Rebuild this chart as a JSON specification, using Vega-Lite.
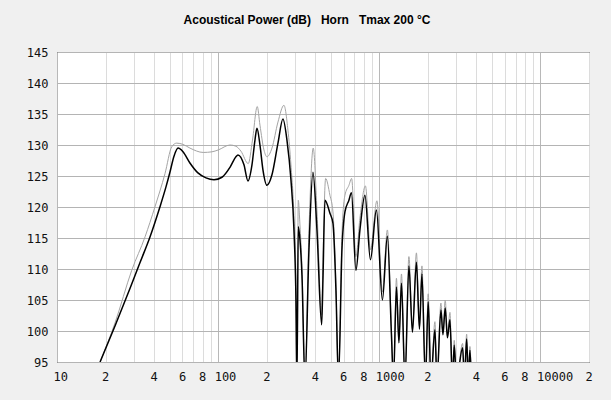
{
  "$schema": "https://vega.github.io/schema/vega-lite/v6.json",
  "width": 532,
  "height": 310,
  "autosize": {"type": "none"},
  "padding": {"left": 57, "top": 52, "right": 22, "bottom": 38},
  "background": "#f0f0f0",
  "config": {
    "view": {"stroke": "#000000", "strokeWidth": 1, "fill": "#ffffff"},
    "axis": {"labelFont": "DejaVu Sans Mono", "labelFontSize": 12, "labelColor": "#111111", "ticks": false, "tickSize": 0, "domain": false, "title": null, "labelOverlap": false, "labelBound": false, "labelFlush": false}
  },
  "title": {
    "text": "Acoustical Power (dB)\u00a0\u00a0\u00a0Horn\u00a0\u00a0\u00a0Tmax 200 °C",
    "font": "Liberation Sans",
    "fontSize": 12,
    "fontWeight": "bold",
    "color": "#000000",
    "anchor": "middle",
    "dx": -16,
    "offset": 19
  },
  "datasets": {
    "gray": [
      {"f": 18.5, "db": 95},
      {"f": 22.9, "db": 101.3},
      {"f": 29.1, "db": 109.8},
      {"f": 35.2, "db": 115.2},
      {"f": 40.5, "db": 120.0},
      {"f": 46.8, "db": 125.4},
      {"f": 51.5, "db": 129.7},
      {"f": 55.3, "db": 130.3},
      {"f": 60.5, "db": 130.1},
      {"f": 66.8, "db": 129.5},
      {"f": 80.8, "db": 128.8},
      {"f": 91.5, "db": 128.9},
      {"f": 100.1, "db": 129.2},
      {"f": 118.4, "db": 130.0},
      {"f": 128.9, "db": 129.8},
      {"f": 138.5, "db": 129.0},
      {"f": 153.7, "db": 127.0},
      {"f": 163.3, "db": 130.8},
      {"f": 174.8, "db": 136.2},
      {"f": 181.7, "db": 133.2},
      {"f": 192.4, "db": 129.2},
      {"f": 200.7, "db": 128.1},
      {"f": 215.7, "db": 129.5},
      {"f": 235, "db": 133.7},
      {"f": 255.9, "db": 136.4},
      {"f": 271.0, "db": 132.4},
      {"f": 282.9, "db": 126.8},
      {"f": 295.3, "db": 118.7},
      {"f": 303.9, "db": 108.2},
      {"f": 308.3, "db": 92},
      {"f": 314.1, "db": 121.1},
      {"f": 321.8, "db": 117.1},
      {"f": 331.1, "db": 110.6},
      {"f": 345.6, "db": 92},
      {"f": 365.9, "db": 116.3},
      {"f": 389, "db": 129.5},
      {"f": 410.2, "db": 119.5},
      {"f": 438.6, "db": 102.6},
      {"f": 446.8, "db": 111.5},
      {"f": 464.4, "db": 124.6},
      {"f": 493.8, "db": 121.9},
      {"f": 515.5, "db": 119.2},
      {"f": 538.1, "db": 107.4},
      {"f": 557.7, "db": 92},
      {"f": 586.2, "db": 115.5},
      {"f": 611.8, "db": 121.9},
      {"f": 647.7, "db": 123.5},
      {"f": 673.3, "db": 124.6},
      {"f": 715.8, "db": 112.0},
      {"f": 758, "db": 118.2},
      {"f": 820, "db": 123.4},
      {"f": 880.8, "db": 113.1},
      {"f": 966.3, "db": 121.0},
      {"f": 1045, "db": 106.3},
      {"f": 1122, "db": 116.3},
      {"f": 1189, "db": 100.2},
      {"f": 1224, "db": 92},
      {"f": 1277, "db": 108.5},
      {"f": 1323, "db": 98.5},
      {"f": 1372, "db": 109.2},
      {"f": 1442, "db": 92},
      {"f": 1526, "db": 112.0},
      {"f": 1605, "db": 100.3},
      {"f": 1699, "db": 112.6},
      {"f": 1774, "db": 100.8},
      {"f": 1838, "db": 110.5},
      {"f": 1932, "db": 92},
      {"f": 2011, "db": 106.0},
      {"f": 2090, "db": 92},
      {"f": 2213, "db": 101.5},
      {"f": 2277, "db": 92},
      {"f": 2411, "db": 104.5},
      {"f": 2481, "db": 99.8},
      {"f": 2564, "db": 105.0},
      {"f": 2646, "db": 99.3},
      {"f": 2742, "db": 103.0},
      {"f": 2842, "db": 92},
      {"f": 2916, "db": 98.5},
      {"f": 3009, "db": 92},
      {"f": 3287, "db": 98.0},
      {"f": 3373, "db": 92},
      {"f": 3481, "db": 99.5},
      {"f": 3571, "db": 92},
      {"f": 3648, "db": 97.5},
      {"f": 3727, "db": 92}
    ],
    "black": [
      {"f": 18.5, "db": 95},
      {"f": 22.9, "db": 100.8},
      {"f": 28.4, "db": 106.9},
      {"f": 32.7, "db": 111.0},
      {"f": 37.8, "db": 115.2},
      {"f": 43.5, "db": 120.0},
      {"f": 47.4, "db": 123.2},
      {"f": 50.2, "db": 125.6},
      {"f": 53.2, "db": 128.2},
      {"f": 56.4, "db": 129.5},
      {"f": 60.5, "db": 128.9},
      {"f": 66.8, "db": 127.1},
      {"f": 74.9, "db": 125.5},
      {"f": 84.0, "db": 124.7},
      {"f": 94.2, "db": 124.4},
      {"f": 105.6, "db": 124.8},
      {"f": 118.4, "db": 126.4},
      {"f": 128.9, "db": 128.1},
      {"f": 132.7, "db": 128.4},
      {"f": 144.6, "db": 126.8},
      {"f": 153.0, "db": 124.2},
      {"f": 162.1, "db": 126.8},
      {"f": 169.2, "db": 130.8},
      {"f": 174.1, "db": 132.7},
      {"f": 181.7, "db": 130.0},
      {"f": 189.6, "db": 126.0},
      {"f": 200.7, "db": 123.5},
      {"f": 215.7, "db": 125.2},
      {"f": 235, "db": 130.3},
      {"f": 252.3, "db": 134.2},
      {"f": 267.2, "db": 130.8},
      {"f": 282.9, "db": 124.4},
      {"f": 295.3, "db": 116.3},
      {"f": 303.9, "db": 105.0},
      {"f": 308.3, "db": 92},
      {"f": 314.1, "db": 116.8},
      {"f": 321.8, "db": 114.7},
      {"f": 331.1, "db": 109.0},
      {"f": 345.6, "db": 92},
      {"f": 365.9, "db": 113.1},
      {"f": 387.4, "db": 125.6},
      {"f": 410.2, "db": 116.3},
      {"f": 438.6, "db": 101.0},
      {"f": 446.8, "db": 108.2},
      {"f": 459.7, "db": 121.1},
      {"f": 493.8, "db": 119.0},
      {"f": 515.5, "db": 117.4},
      {"f": 538.1, "db": 106.6},
      {"f": 557.7, "db": 92},
      {"f": 586.2, "db": 113.1},
      {"f": 611.8, "db": 119.2},
      {"f": 647.7, "db": 121.1},
      {"f": 671.3, "db": 122.3},
      {"f": 715.8, "db": 109.8},
      {"f": 758, "db": 116.3},
      {"f": 814.3, "db": 121.9},
      {"f": 880.8, "db": 111.5},
      {"f": 959.4, "db": 119.5},
      {"f": 1045, "db": 105.0},
      {"f": 1122, "db": 115.3},
      {"f": 1189, "db": 99.4},
      {"f": 1224, "db": 92},
      {"f": 1277, "db": 107.1},
      {"f": 1323, "db": 98.1},
      {"f": 1372, "db": 107.7},
      {"f": 1442, "db": 92},
      {"f": 1526, "db": 110.5},
      {"f": 1605, "db": 99.8},
      {"f": 1699, "db": 111.1},
      {"f": 1774, "db": 100.3},
      {"f": 1838, "db": 109.2},
      {"f": 1932, "db": 92},
      {"f": 2011, "db": 104.7},
      {"f": 2090, "db": 92},
      {"f": 2213, "db": 100.2},
      {"f": 2277, "db": 92},
      {"f": 2411, "db": 103.4},
      {"f": 2481, "db": 99.4},
      {"f": 2564, "db": 103.7},
      {"f": 2646, "db": 98.9},
      {"f": 2742, "db": 101.8},
      {"f": 2842, "db": 92},
      {"f": 2916, "db": 97.7},
      {"f": 3009, "db": 92},
      {"f": 3287, "db": 97.3},
      {"f": 3373, "db": 92},
      {"f": 3481, "db": 98.7},
      {"f": 3571, "db": 92},
      {"f": 3648, "db": 96.9},
      {"f": 3727, "db": 92}
    ]
  },
  "encoding": {
    "x": {
      "field": "f",
      "type": "quantitative",
      "scale": {"type": "log", "domain": [10, 20000], "nice": false},
      "axis": {
        "values": [10, 20, 30, 40, 50, 60, 70, 80, 90, 100, 200, 300, 400, 500, 600, 700, 800, 900, 1000, 2000, 3000, 4000, 5000, 6000, 7000, 8000, 9000, 10000, 20000],
        "labelExpr": "indexof([10, 100, 1000, 10000], datum.value) >= 0 ? format(datum.value, 'd') : (indexof([20, 40, 60, 80, 200, 400, 600, 800, 2000, 4000, 6000, 8000, 20000], datum.value) >= 0 ? substring(format(datum.value, 'd'), 0, 1) : '')",
        "labelAlign": "left",
        "labelOffset": -4,
        "labelPadding": 9,
        "grid": true,
        "gridColor": {"condition": {"test": "indexof([10, 100, 1000, 10000], datum.value) >= 0", "value": "#b8b8b8"}, "value": "#dcdcdc"},
        "gridWidth": 1
      }
    },
    "y": {
      "field": "db",
      "type": "quantitative",
      "scale": {"domain": [95, 145], "nice": false, "zero": false},
      "axis": {
        "values": [95, 100, 105, 110, 115, 120, 125, 130, 135, 140, 145],
        "labelPadding": 9,
        "grid": true,
        "gridColor": "#b4b4b4"
      }
    }
  },
  "layer": [
    {
      "data": {"name": "gray"},
      "mark": {"type": "line", "color": "#a4a4a4", "strokeWidth": 1, "clip": true, "interpolate": "monotone"}
    },
    {
      "data": {"name": "black"},
      "mark": {"type": "line", "color": "#000000", "strokeWidth": 1.5, "clip": true, "interpolate": "monotone"}
    }
  ]
}
